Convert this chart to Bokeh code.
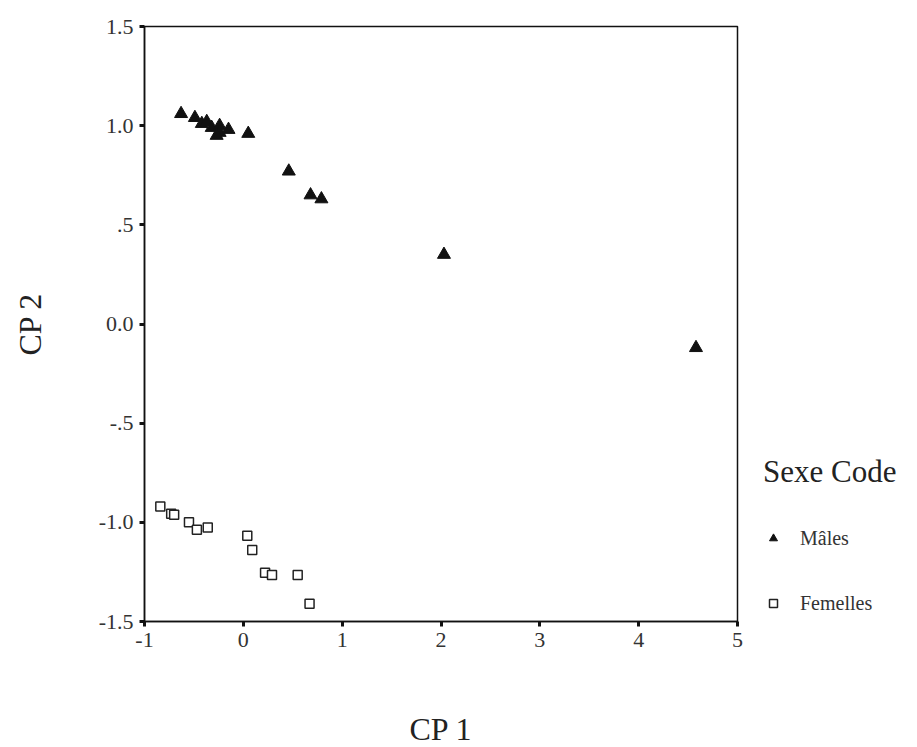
from bokeh.plotting import figure
from bokeh.models import Range1d, FixedTicker, Legend, LegendItem, ColumnDataSource
from bokeh.embed import file_html
from bokeh.resources import INLINE

# Data
males_x = [-0.63, -0.49, -0.42, -0.37, -0.32, -0.24, -0.24, -0.15, -0.27, 0.05, 0.46, 0.68, 0.79, 2.03, 4.58]
males_y = [1.06, 1.04, 1.01, 1.02, 0.99, 1.00, 0.965, 0.98, 0.95, 0.96, 0.77, 0.65, 0.63, 0.35, -0.12]

fem_x = [-0.84, -0.73, -0.70, -0.55, -0.47, -0.36, 0.04, 0.09, 0.22, 0.29, 0.55, 0.67]
fem_y = [-0.92, -0.957, -0.962, -1.0, -1.037, -1.026, -1.068, -1.14, -1.254, -1.265, -1.265, -1.41]

x_ticks = [-1, 0, 1, 2, 3, 4, 5]
x_labels = ["-1", "0", "1", "2", "3", "4", "5"]
y_ticks = [1.5, 1.0, 0.5, 0.0, -0.5, -1.0, -1.5]
y_labels = ["1.5", "1.0", ".5", "0.0", "-.5", "-1.0", "-1.5"]

legend_title = "Sexe Code"
series_names = ["Mâles", "Femelles"]

FONT = "Liberation Serif"

p = figure(frame_width=593, frame_height=595, output_backend="svg", toolbar_location=None,
           x_range=Range1d(-1, 5), y_range=Range1d(-1.5, 1.5),
           min_border_left=144, min_border_right=163, min_border_top=26, min_border_bottom=110)

p.background_fill_color = "white"
p.border_fill_color = "white"
p.outline_line_color = "#111111"
p.outline_line_width = 1.5
p.xgrid.visible = False
p.ygrid.visible = False

for ax in (p.xaxis[0], p.yaxis[0]):
    ax.axis_line_color = "#111111"
    ax.axis_line_width = 1.5
    ax.major_tick_line_color = "#111111"
    ax.major_tick_line_width = 3
    ax.major_tick_out = 5
    ax.major_tick_in = 0
    ax.minor_tick_line_color = None
    ax.major_label_text_font = FONT
    ax.major_label_text_font_size = "22px"
    ax.major_label_text_color = "#333333"
    ax.axis_label_text_font = FONT
    ax.axis_label_text_font_size = "32px"
    ax.axis_label_text_font_style = "normal"
    ax.axis_label_text_color = "#222222"

p.xaxis.ticker = FixedTicker(ticks=x_ticks)
p.xaxis.major_label_overrides = {t: l for t, l in zip(x_ticks, x_labels)}
p.yaxis.ticker = FixedTicker(ticks=y_ticks)
p.yaxis.major_label_overrides = {t: l for t, l in zip(y_ticks, y_labels)}
p.xaxis.axis_label = "CP 1"
p.yaxis.axis_label = "CP 2"
p.xaxis.major_label_standoff = 6
p.yaxis.major_label_standoff = 6
p.xaxis.axis_label_standoff = 61
p.yaxis.axis_label_standoff = 48

src_m = ColumnDataSource(dict(x=males_x, y=males_y))
src_f = ColumnDataSource(dict(x=fem_x, y=fem_y))

r_m = p.scatter("x", "y", source=src_m, marker="triangle", size=13,
                fill_color="#111111", line_color="#111111", line_width=1)
r_f = p.scatter("x", "y", source=src_f, marker="square", size=9,
                fill_color="white", line_color="#222222", line_width=1.5)

legend = Legend(items=[LegendItem(label=series_names[0], renderers=[r_m]),
                       LegendItem(label=series_names[1], renderers=[r_f])],
                title=legend_title, location=(26, 6))
legend.title_text_font = FONT
legend.title_text_font_size = "31px"
legend.title_text_font_style = "normal"
legend.title_text_color = "#222222"
legend.title_standoff = 36
legend.label_text_font = FONT
legend.label_text_font_size = "20px"
legend.label_text_color = "#333333"
legend.spacing = 41
legend.glyph_width = 20
legend.glyph_height = 24
legend.label_standoff = 17
legend.border_line_alpha = 0
legend.background_fill_alpha = 0
legend.padding = 0
legend.margin = 0
p.add_layout(legend, "right")

open("out.html", "w").write(file_html(p, INLINE))
